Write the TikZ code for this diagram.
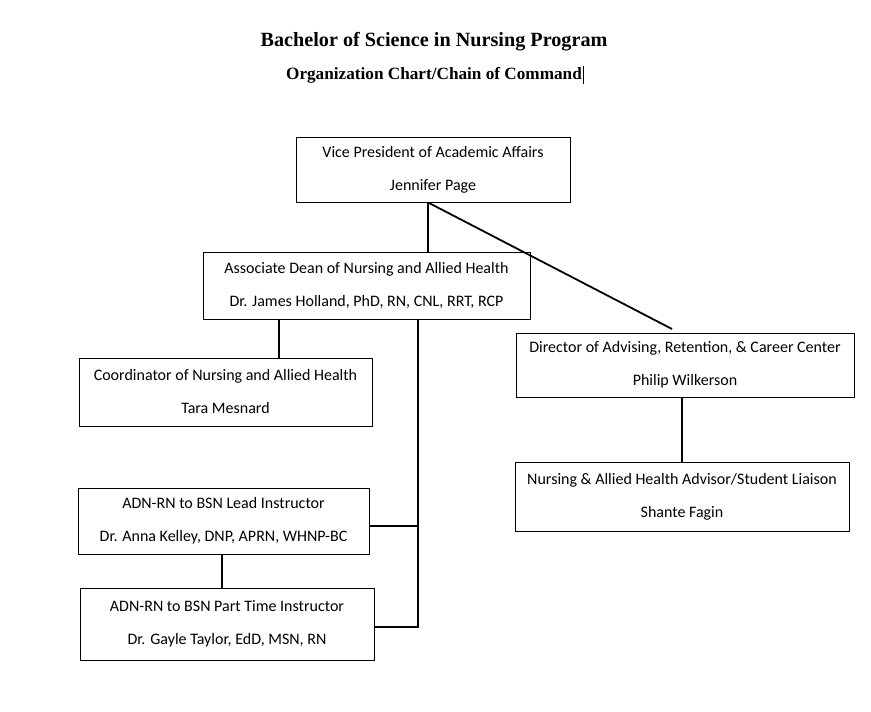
\documentclass[tikz,border=0pt]{standalone}
\usepackage{fontspec}
\setmainfont{Carlito}
\newfontfamily\titlefont{Liberation Serif}
\begin{document}
\begin{tikzpicture}[x=1pt,y=-1pt,
  box/.style={draw, line width=0.9pt, rectangle, inner sep=0pt, align=center,
    font=\fontsize{16}{33}\selectfont},
  conn/.style={draw, line width=1.8pt}]
\useasboundingbox (0,0) rectangle (871,712);
\fill[white] (0,0) rectangle (871,712);
\node[font=\titlefont\bfseries\fontsize{20.2}{24}\selectfont, inner sep=0pt] (t1) at (434,42) {Bachelor of Science in Nursing Program};
\node[font=\titlefont\bfseries\fontsize{17.2}{20}\selectfont, inner sep=0pt] (t2) at (434,75) {Organization Chart/Chain of Command};
\draw[line width=0.8pt] ([xshift=1.5pt,yshift=-9pt]t2.east) -- ([xshift=1.5pt,yshift=9pt]t2.east);

\node[box, minimum width=274, minimum height=65] (vp) at (433,169.5) {Vice President of Academic Affairs\\Jennifer Page};
\node[box, minimum width=327, minimum height=67] (ad) at (366.5,285.5) {Associate Dean of Nursing and Allied Health\\Dr. James Holland, PhD, RN, CNL, RRT, RCP};
\node[box, minimum width=293, minimum height=68] (co) at (225.5,392) {Coordinator of Nursing and Allied Health\\Tara Mesnard};
\node[box, minimum width=338, minimum height=64] (di) at (685,365) {Director of Advising, Retention, \& Career Center\\Philip Wilkerson};
\node[box, minimum width=334, minimum height=69] (av) at (682,496.5) {Nursing \& Allied Health Advisor/Student Liaison\\Shante Fagin};
\node[box, minimum width=291, minimum height=66] (ld) at (223.5,521) {ADN-RN to BSN Lead Instructor\\Dr. Anna Kelley, DNP, APRN, WHNP-BC};
\node[box, minimum width=294, minimum height=72] (pt) at (227,624) {ADN-RN to BSN Part Time Instructor\\Dr. Gayle Taylor, EdD, MSN, RN};

\coordinate (xa) at (428,0);
\coordinate (xb) at (279,0);
\coordinate (xc) at (418,0);
\coordinate (xd) at (222,0);
\coordinate (xe) at (682,0);
\coordinate (dg) at (672,329);

\draw[conn] (vp.south -| xa) -- (ad.north -| xa);
\draw[conn] (vp.south -| xa) -- (dg);
\draw[conn] (ad.south -| xb) -- (co.north -| xb);
\draw[conn] (ad.south -| xc) |- ([yshift=-3pt]pt.east);
\draw[conn] ([yshift=-5pt]ld.east) -- ([yshift=-5pt]ld.east -| xc);
\draw[conn] (ld.south -| xd) -- (pt.north -| xd);
\draw[conn] (di.south -| xe) -- (av.north -| xe);
\end{tikzpicture}
\end{document}
